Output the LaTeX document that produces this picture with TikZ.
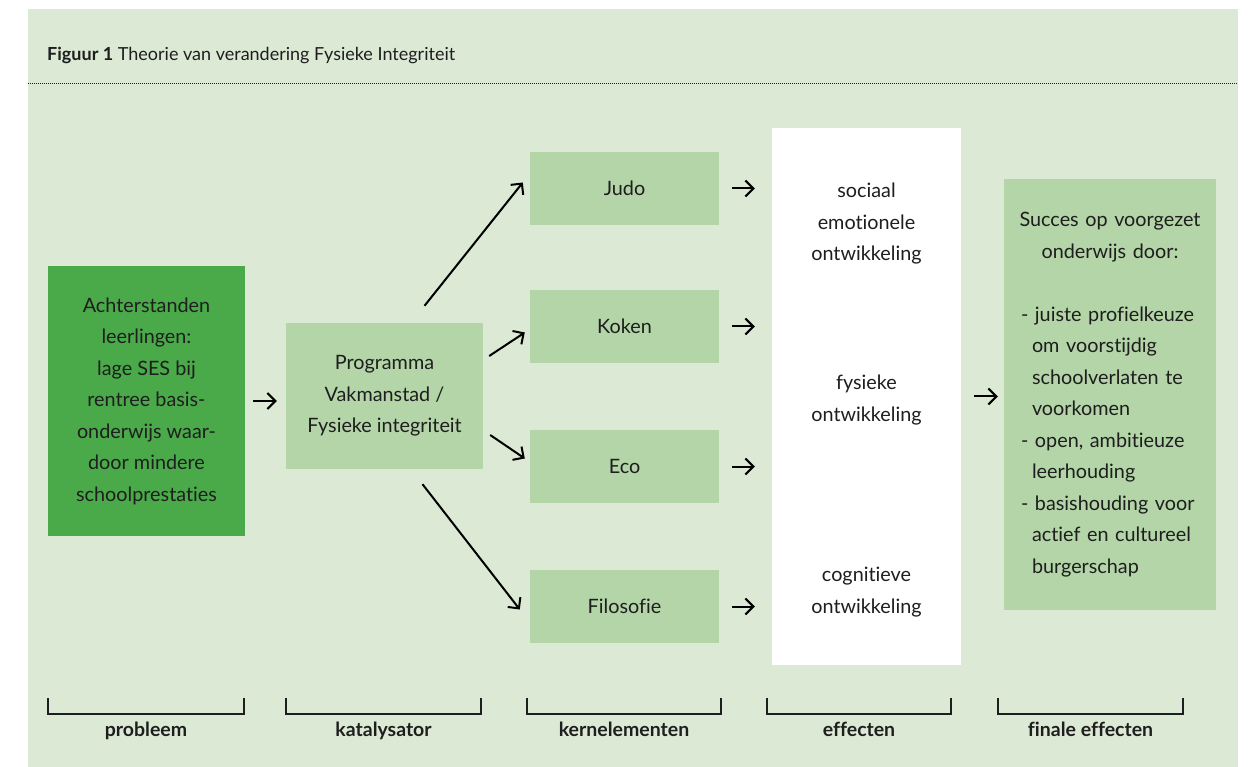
\documentclass[tikz,border=0pt]{standalone}
\usepackage{xcolor}
\usepackage{fontspec}
\setmainfont{Lato}[Ligatures=NoCommon]
\usepackage{tikz}
\usetikzlibrary{calc}
\usetikzlibrary{arrows.meta,positioning}

\definecolor{bgpanel}{HTML}{DCE9D5}
\definecolor{boxgreen}{HTML}{B3D5A8}
\definecolor{darkgreen}{HTML}{4AAA4A}
\definecolor{inkgray}{HTML}{1E1E1E}

\begin{document}
\begin{tikzpicture}[x=1pt,y=-1pt,
	font=\fontsize{19.8}{31.5}\selectfont, text=inkgray,
	kbox/.style={fill=boxgreen,minimum width=189pt,minimum height=73pt,inner sep=0pt},
	arr/.style={-{Straight Barb[length=8pt,width=16pt]},line width=2pt,black},
	brace/.style={line width=1.3pt,inkgray},
	lbl/.style={font=\fontsize{19.5}{22}\selectfont\bfseries}]
	\useasboundingbox (0,0) rectangle (1251,767);
	\fill[bgpanel] (28,9) rectangle (1238,767);
	\node[anchor=base west,inner sep=0pt] (titel) at (47,61) {\fontsize{18}{20}\selectfont\textbf{Figuur 1} Theorie van verandering Fysieke Integriteit};
	\draw[line width=1pt,dash pattern=on 1pt off 1pt,inkgray] (28,84) -- (1238,84);
	% probleem en katalysator
	\node[fill=darkgreen,minimum width=197pt,minimum height=269pt,inner sep=0pt,align=center] (probl) at (146.5,401) {\fontsize{19.8}{32}\selectfont Achterstanden\\leerlingen:\\lage SES bij\\rentree basis-\\onderwijs waar-\\door mindere\\schoolprestaties};
	\node[fill=boxgreen,minimum width=197pt,minimum height=146pt,inner sep=0pt,align=center] (prog) at (384.5,396) {Programma\\Vakmanstad /\\Fysieke integriteit};
	% kernelementen
	\node[kbox] (judo) at (624.5,188.5) {Judo};
	\node[kbox] (koken) at (624.5,326.5) {Koken};
	\node[kbox] (eco) at (624.5,466.5) {Eco};
	\node[kbox] (filo) at (624.5,606.5) {Filosofie};
	% effecten
	\node[fill=white,minimum width=189pt,minimum height=537pt,inner sep=0pt] (eff) at (866.5,396.5) {};
	\node[align=center] (effsoc) at (866.5,224) {sociaal\\emotionele\\ontwikkeling};
	\node[align=center] (efffys) at (866.5,400) {fysieke\\ontwikkeling};
	\node[align=center] (effcog) at (866.5,592) {cognitieve\\ontwikkeling};
	\node[fill=boxgreen,minimum height=431pt,text width=178pt,inner xsep=17pt,align=left] (fin) at (1110,394.5) {\makebox[178pt]{Succes op voorgezet}\\\makebox[178pt]{onderwijs door:}\\[31.5pt]- juiste profielkeuze\\\hspace*{11pt}om voorstijdig\\\hspace*{11pt}schoolverlaten te\\\hspace*{11pt}voorkomen\\- open, ambitieuze\\\hspace*{11pt}leerhouding\\- basishouding voor\\\hspace*{11pt}actief en cultureel\\\hspace*{11pt}burgerschap};
	% pijlen
	\draw[arr,shorten <=8pt,shorten >=9pt] (probl.east) -- (probl.east -| prog.west);
	\draw[arr] ($(prog.north)+(40,-17)$) -- ($(judo.west)+(-7,-6)$);
	\draw[arr] ($(prog.east)+(6,-40)$) -- ($(koken.west)+(-5,6)$);
	\draw[arr] ($(prog.east)+(7,39)$) -- ($(eco.west)+(-5,-8)$);
	\draw[arr] ($(prog.south)+(38,15)$) -- ($(filo.west)+(-10,3)$);
	\foreach \k in {judo,koken,eco,filo}
		\draw[arr,shorten <=13pt,shorten >=17pt] (\k.east) -- (\k.east -| eff.west);
	\draw[arr,shorten <=13pt,shorten >=6pt] (eff.east) -- (eff.east -| fin.west);
	% onderschriften
	\foreach \a/\b/\t in {48/244/probleem,286/481/katalysator,527/721/kernelementen,767/951/effecten,998/1183/finale effecten}{
		\draw[brace] (\a,698) |- (\b,714) -- (\b,698);
		\node[lbl,anchor=base] (lbl-\a) at ({(\a+\b)/2},736) {\t};
	}
\end{tikzpicture}
\end{document}
